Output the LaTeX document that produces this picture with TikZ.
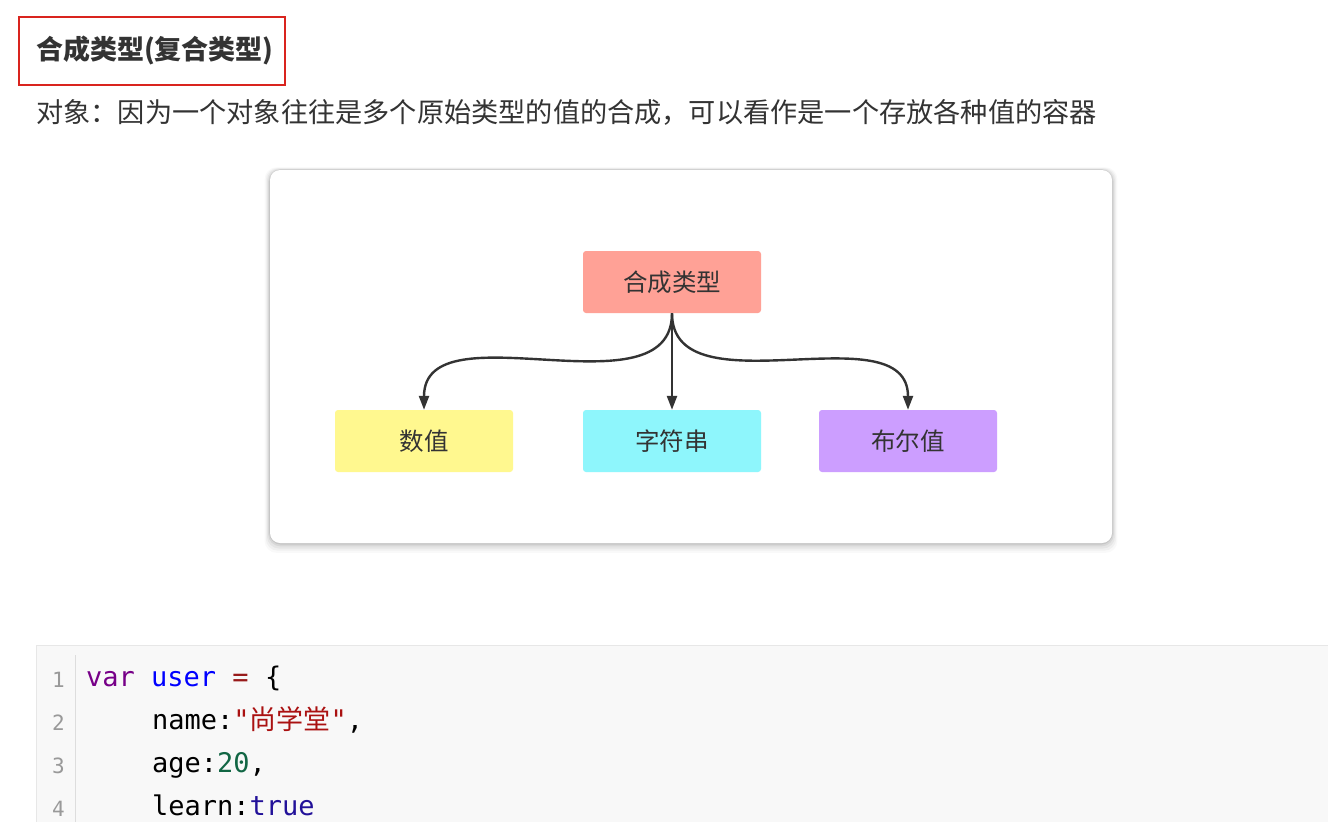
\documentclass[tikz,border=0pt]{standalone}
\usepackage{fontspec}
\setmainfont{Noto Sans CJK SC}
\newfontfamily\cjk{Noto Sans CJK SC}
\newfontfamily\codefont{DejaVu Sans Mono}
\usetikzlibrary{arrows.meta}
\definecolor{txt}{HTML}{333333}
\definecolor{titlered}{HTML}{D9241E}
\definecolor{nroot}{HTML}{FFA196}
\definecolor{nyel}{HTML}{FFF88F}
\definecolor{ncyan}{HTML}{8EF6FC}
\definecolor{npur}{HTML}{CC9EFF}
\definecolor{edge}{HTML}{333333}
\definecolor{codebg}{HTML}{F8F8F8}
\definecolor{codeborder}{HTML}{E7E7E7}
\definecolor{gutter}{HTML}{DDDDDD}
\definecolor{lnum}{HTML}{999999}
\definecolor{kw}{HTML}{770088}
\definecolor{def}{HTML}{0000FF}
\definecolor{op}{HTML}{981A1A}
\definecolor{str}{HTML}{AA1111}
\definecolor{num}{HTML}{116644}
\definecolor{atom}{HTML}{221199}
\tikzset{
  box/.style={rounded corners=3pt, minimum width=178pt, minimum height=62pt, inner sep=0pt, font=\fontsize{24.5}{24.5}\selectfont, text=txt},
  link/.style={draw=edge, line width=2.4pt, -{Triangle[length=14pt,width=10pt]}},
  code/.style={inner sep=0pt, anchor=base west, font=\codefont\fontsize{27}{27}\selectfont},
  lno/.style={inner sep=0pt, anchor=base east, text=lnum, font=\codefont\fontsize{21}{21}\selectfont},
}
\begin{document}
\begin{tikzpicture}[x=1pt,y=-1pt]
\useasboundingbox[fill=white] (0,0) rectangle (1328,822);
% title
\draw[titlered, line width=1.4pt] (19,17) rectangle (285,85);
\node[inner sep=0pt, anchor=west, text=txt, font=\fontsize{27}{27}\selectfont\bfseries] (title) at (36,50) {合成类型(复合类型)};
\node[inner sep=0pt, anchor=west, text=txt, font=\fontsize{27.2}{27.2}\selectfont] (desc) at (36,112) {对象：因为一个对象往往是多个原始类型的值的合成，可以看作是一个存放各种值的容器};
% card shadow
\foreach \o/\a in {9/0.025,7/0.035,5/0.045,3/0.06,1.5/0.08}{
  \fill[black, opacity=\a, rounded corners=12pt] (270-\o*0.6,170-\o*0.3) rectangle (1112+\o*0.6,543+\o*1.1);
}
\fill[white, rounded corners=10pt] (270,170) rectangle (1112,543);
% nodes
\node[box, fill=nroot] (root) at (672,282) {合成类型};
\node[box, fill=nyel] (n1) at (424,441) {数值};
\node[box, fill=ncyan] (n2) at (672,441) {字符串};
\node[box, fill=npur] (n3) at (908,441) {布尔值};
\draw[link] (root.south) to[out=-90, in=90] (n1.north);
\draw[link] (root.south) -- (n2.north);
\draw[link] (root.south) to[out=-90, in=90] (n3.north);
% code block
\fill[codebg] (36,645) rectangle (1328,822);
\draw[codeborder, line width=1pt] (36,822) -- (36,645) -- (1328,645);
\draw[gutter, line width=1pt] (75,655) -- (75,822);
\node[lno] (k1) at (65,687) {1};
\node[lno] (k2) at (65,730) {2};
\node[lno] (k3) at (65,773) {3};
\node[lno] (k4) at (65,816) {4};
\node[code] (c1) at (86,686) {\textcolor{kw}{var} \textcolor{def}{user} \textcolor{op}{=} \{};
\node[code] (c2) at (152,729) {name:\textcolor{str}{"{\cjk 尚学堂}"},};
\node[code] (c3) at (152,772) {age:\textcolor{num}{20},};
\node[code] (c4) at (152,815) {learn:\textcolor{atom}{true}};
\end{tikzpicture}
\end{document}
